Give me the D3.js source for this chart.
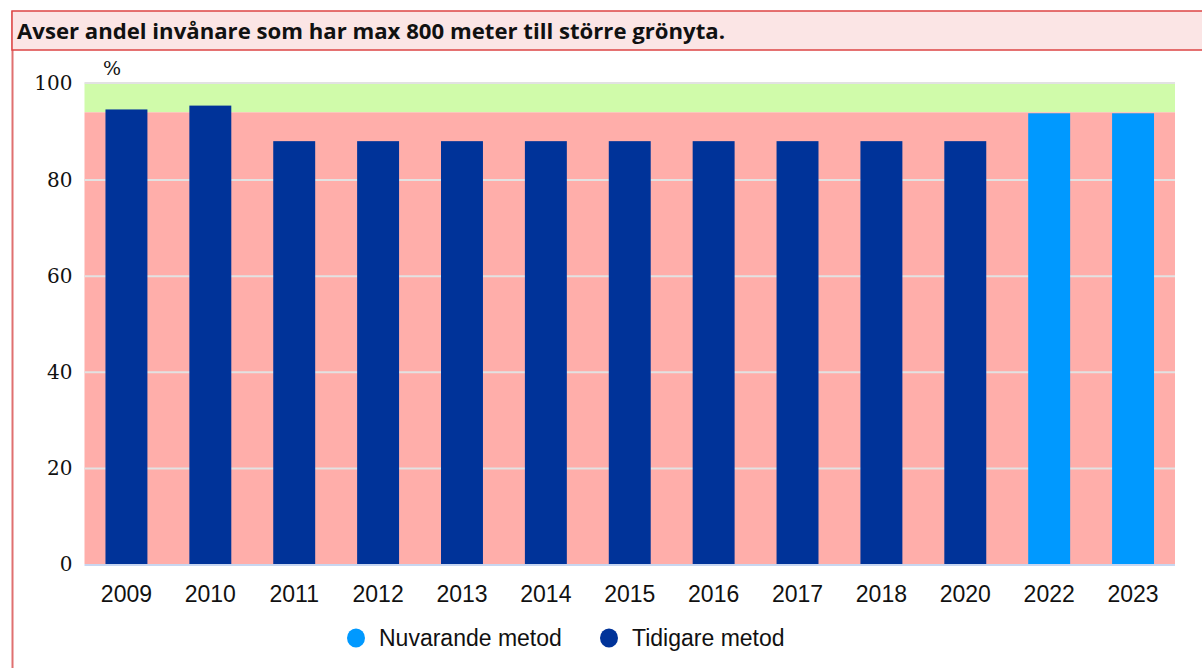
<!DOCTYPE html>
<html>
<head>
<meta charset="utf-8">
<script src="https://cdn.jsdelivr.net/npm/d3@7"></script>
<style>
  body { margin: 0; background: #fff; }
  svg { display: block; }
</style>
</head>
<body>
<svg id="chart" width="1202" height="668"></svg>
<script>
var years = ['2009','2010','2011','2012','2013','2014','2015','2016','2017','2018','2020','2022','2023'];
var values = [94.6, 95.4, 88, 88, 88, 88, 88, 88, 88, 88, 88, 93.8, 93.8];
var method = ['T','T','T','T','T','T','T','T','T','T','T','N','N'];
var seriesNames = ['Nuvarande metod', 'Tidigare metod'];
var seriesColors = ['#0099ff', '#003399'];
var yTicks = [0, 20, 40, 60, 80, 100];
var goal = 94;
var title = 'Avser andel invånare som har max 800 meter till större grönyta.';

var svg = d3.select('#chart');
var plot = {left: 84.5, right: 1175, top: 83.5, bottom: 564};

// frame + title
svg.append('line')
    .attr('x1', 12.5).attr('x2', 12.5).attr('y1', 11).attr('y2', 668)
    .attr('stroke', '#e07070').attr('stroke-width', 2);
svg.append('rect')
    .attr('x', 12).attr('y', 11).attr('width', 1202).attr('height', 39)
    .attr('fill', '#fbe5e5').attr('stroke', '#dd4444').attr('stroke-width', 1.5);
svg.append('text')
    .attr('x', 17).attr('y', 39)
    .attr('font-family', 'Open Sans, Noto Sans, sans-serif')
    .attr('font-weight', 'bold').attr('font-size', 22)
    .attr('textLength', 708).attr('lengthAdjust', 'spacingAndGlyphs')
    .attr('fill', '#111')
    .text(title);

var x = d3.scaleBand().domain(years).range([plot.left, plot.right])
    .paddingInner(0.5).paddingOuter(0.25);
var y = d3.scaleLinear().domain([0, 100]).range([plot.bottom, plot.top]);

// background bands
svg.append('rect')
    .attr('x', plot.left).attr('width', plot.right - plot.left)
    .attr('y', y(100)).attr('height', y(goal) - y(100))
    .attr('fill', '#d0fbaa');
svg.append('rect')
    .attr('x', plot.left).attr('width', plot.right - plot.left)
    .attr('y', y(goal)).attr('height', y(0) - y(goal))
    .attr('fill', '#ffaeaa');

// grid
var grid = d3.axisRight(y).tickValues(yTicks.slice(1))
    .tickSize(plot.right - plot.left).tickFormat('');
svg.append('g')
    .attr('transform', 'translate(' + plot.left + ',0)')
    .call(grid)
    .call(function(g) {
        g.select('.domain').remove();
        g.selectAll('line').attr('stroke', '#e2e2e2').attr('stroke-width', 2)
            .attr('transform', function(d) { return d === 100 ? 'translate(0,-1)' : null; });
    });

// bars
svg.append('g').selectAll('rect')
    .data(years)
    .join('rect')
        .attr('x', function(d) { return x(d); })
        .attr('width', x.bandwidth())
        .attr('y', function(d, i) { return y(values[i]); })
        .attr('height', function(d, i) { return y(0) - y(values[i]); })
        .attr('fill', function(d, i) { return method[i] === 'N' ? seriesColors[0] : seriesColors[1]; });

// zero line
svg.append('line')
    .attr('x1', plot.left).attr('x2', plot.right)
    .attr('y1', y(0) + 1).attr('y2', y(0) + 1)
    .attr('stroke', '#c8d6f0').attr('stroke-width', 2);

// y axis
var axisY = d3.axisLeft(y).tickValues(yTicks).tickSize(0).tickPadding(12);
svg.append('g')
    .attr('transform', 'translate(' + plot.left + ',0)')
    .call(axisY)
    .call(function(g) {
        g.select('.domain').remove();
        g.selectAll('text')
            .attr('font-family', 'DejaVu Serif, serif').attr('font-size', 20)
            .attr('fill', '#111');
    });

svg.append('text')
    .attr('x', 103).attr('y', 75)
    .attr('font-family', 'DejaVu Serif, serif').attr('font-size', 19)
    .attr('fill', '#111').text('%');

// x axis
var axisX = d3.axisBottom(x).tickSize(0).tickPadding(22);
svg.append('g')
    .attr('transform', 'translate(0,' + plot.bottom + ')')
    .call(axisX)
    .call(function(g) {
        g.select('.domain').remove();
        g.selectAll('text')
            .attr('font-family', 'Liberation Sans, Arial, sans-serif').attr('font-size', 23)
            .attr('fill', '#111');
    });

// legend
var legendX = [356, 609];
var legend = svg.append('g').selectAll('g')
    .data(seriesNames)
    .join('g')
        .attr('transform', function(d, i) { return 'translate(' + legendX[i] + ',638)'; });
legend.append('ellipse')
    .attr('rx', 9).attr('ry', 9.5)
    .attr('fill', function(d, i) { return seriesColors[i]; });
legend.append('text')
    .attr('x', 23).attr('y', 8)
    .attr('font-family', 'Liberation Sans, Arial, sans-serif').attr('font-size', 23)
    .attr('fill', '#111')
    .text(function(d) { return d; });
</script>
</body>
</html>
